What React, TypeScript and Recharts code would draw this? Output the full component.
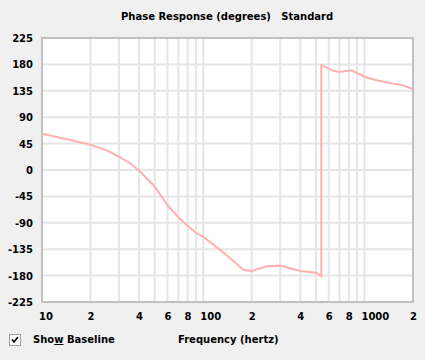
import { LineChart, Line, XAxis, YAxis, CartesianGrid, ReferenceArea } from 'recharts';

// frequency (Hz) and phase (degrees)
const freq = [10, 15, 20, 25, 30, 35, 40, 50, 60, 70, 80, 90, 100, 127, 154, 177, 200, 248, 300, 400, 500, 540, 540, 640, 700, 834, 1000, 1190, 1510, 1700, 2000];
const phase = [62, 51, 43, 34, 23, 12, -1, -28, -60, -80, -95, -107, -114, -136, -155, -170, -172, -164, -163, -172, -175, -181, 179, 169, 167, 170, 159, 153, 147, 145, 138];

const xTicks = [10, 20, 30, 40, 50, 60, 70, 80, 90, 100, 200, 300, 400, 500, 600, 700, 800, 900, 1000, 2000];
const xTickLabels = ['10', '2', '', '4', '', '6', '', '8', '', '100', '2', '', '4', '', '6', '', '8', '', '1000', '2'];
const yTicks = [-225, -180, -135, -90, -45, 0, 45, 90, 135, 180, 225];

const data = freq.map((f, i) => ({ f, phase: phase[i] }));

const font = { fontFamily: '"DejaVu Sans", Verdana, sans-serif', fontWeight: 'bold' as const, fontSize: 10 };

const XTick = (props: any) => {
  const { x, y, payload } = props;
  const label = xTickLabels[xTicks.indexOf(payload.value)];
  return (
    <text x={x - 3} y={y + 18} textAnchor="start" fill="#000" style={font}>
      {label}
    </text>
  );
};

const YTick = (props: any) => {
  const { x, y, payload } = props;
  return (
    <text x={x} y={y + 4} textAnchor="end" fill="#000" style={font}>
      {payload.value}
    </text>
  );
};

export default function App() {
  return (
    <div style={{ position: 'absolute', left: 0, top: 0, width: 425, height: 360, background: '#f0f0f0', ...font }}>
      <div style={{ position: 'absolute', left: 121, top: 11, lineHeight: '12px', whiteSpace: 'pre' }}>
        {'Phase Response (degrees)   Standard'}
      </div>
      <LineChart width={425} height={360} data={data} margin={{ top: 38, right: 12, bottom: 38, left: 0 }}>
        <CartesianGrid fill="#fff" stroke="#e6e6e6" strokeWidth={2} verticalPoints={undefined} />
        <XAxis
          dataKey="f"
          type="number"
          scale="log"
          domain={[10, 2000]}
          ticks={xTicks}
          interval={0}
          axisLine={false}
          tickLine={false}
          tickSize={0}
          tickMargin={0}
          height={20}
          tick={<XTick />}
          allowDataOverflow
        />
        <YAxis
          type="number"
          domain={[-225, 225]}
          ticks={yTicks}
          interval={0}
          axisLine={false}
          tickLine={false}
          tickSize={0}
          tickMargin={9}
          width={42}
          tick={<YTick />}
        />
        <ReferenceArea x1={10} x2={2000} y1={-225} y2={225} fill="none" stroke="#c0c0c0" strokeWidth={2} />
        <Line
          type="linear"
          dataKey="phase"
          stroke="#ffb0b0"
          strokeWidth={2}
          dot={false}
          isAnimationActive={false}
        />
      </LineChart>
      <div
        style={{
          position: 'absolute',
          left: 9,
          top: 334,
          width: 10,
          height: 10,
          background: '#fff',
          border: '1px solid #a0a0a0',
        }}
      >
        <svg width={10} height={10} style={{ display: 'block' }}>
          <path d="M2 4.5 L4 7 L8 2" stroke="#000" strokeWidth={1.6} fill="none" />
        </svg>
      </div>
      <div style={{ position: 'absolute', left: 33, top: 334, lineHeight: '12px', whiteSpace: 'pre' }}>
        Sho<span style={{ textDecoration: 'underline' }}>w</span> Baseline
      </div>
      <div style={{ position: 'absolute', left: 178, top: 334, lineHeight: '12px', whiteSpace: 'pre' }}>
        Frequency (hertz)
      </div>
    </div>
  );
}
